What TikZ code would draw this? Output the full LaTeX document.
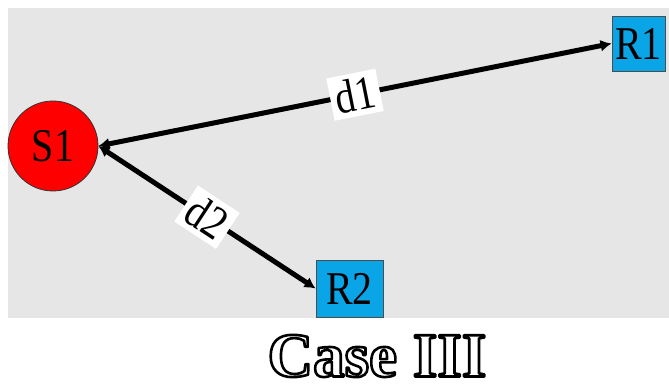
\documentclass[tikz,border=0pt]{standalone}
\usepackage{fontspec}
\setmainfont{Liberation Serif}
\newfontfamily\narrowserif[FakeStretch=0.85]{Liberation Serif}
\usetikzlibrary{arrows.meta}
\definecolor{bggray}{HTML}{E6E6E6}
\definecolor{rbox}{HTML}{0AA5E6}
\definecolor{srd}{HTML}{FF0000}
\newcommand{\outlinetext}[1]{\special{pdf:literal direct 0 0 0 RG 2.6 w 1 j 2 Tr}#1\special{pdf:literal direct 0 Tr}}
\tikzset{
  lbl/.style={font=\narrowserif\fontsize{47}{47}\selectfont, inner sep=0pt},
  rnode/.style={draw=black!70, line width=0.8pt, fill=rbox, minimum width=53pt, minimum height=55pt, lbl},
  snode/.style={circle, draw=black!80, line width=0.8pt, fill=srd, minimum size=90pt, lbl},
  conn/.style={line width=5pt, {Latex[length=11pt,width=12pt]}-{Latex[length=11pt,width=12pt]}},
  dlab/.style={fill=white, sloped, inner sep=5pt, font=\narrowserif\fontsize{47}{47}\selectfont}
}
\begin{document}
\begin{tikzpicture}[x=1pt,y=-1pt]
\useasboundingbox (0,0) rectangle (669,387);
\fill[bggray] (8,8) rectangle (669,318);
\node[snode] (s1) at (53,146) {S1};
\node[rnode] (r1) at (638.5,43.5) {R1};
\node[rnode, minimum width=67pt, minimum height=57pt] (r2) at (349.5,288.5) {R2};
\draw[conn] (s1.east) -- node[dlab] {d1} (r1.west);
\draw[conn] (s1.east) -- node[dlab] {d2} (r2.west);
\node[text=white, inner sep=0pt, font=\bfseries\fontsize{63}{63}\selectfont] (title) at (377,356) {\outlinetext{Case III}};
\end{tikzpicture}
\end{document}
